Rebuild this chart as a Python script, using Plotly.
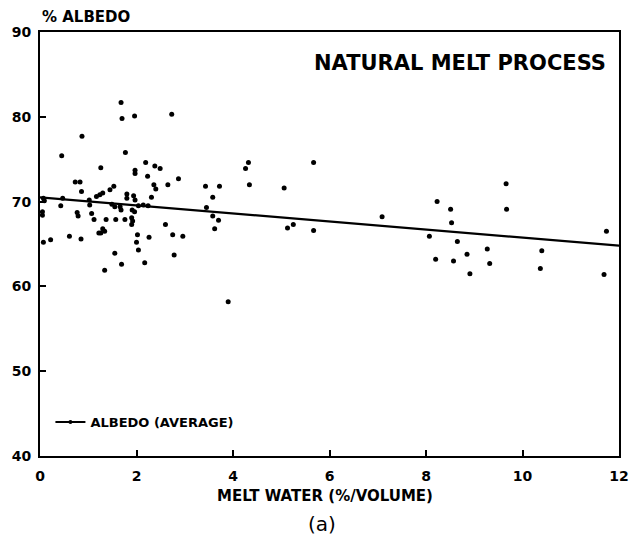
import plotly.graph_objects as go

# Scatter observations: melt water (%/volume) vs albedo (%)
melt_water = [
    1.68, 1.70, 1.96, 2.73, 0.87, 0.45, 1.77, 2.19, 2.38, 2.49, 1.26, 1.97, 1.97,
    2.23, 2.87, 0.73, 0.83, 2.36, 2.40, 2.65, 1.53, 1.45, 0.86, 1.30, 1.24, 1.17,
    1.80, 1.80, 1.94, 1.97, 2.31, 0.07, 0.09, 0.47, 1.02, 1.03, 1.49, 1.55, 1.66,
    1.68, 0.43, 2.04, 2.14, 2.24, 1.91, 1.96, 0.05, 0.05, 0.77, 0.79, 1.07, 1.12,
    1.37, 1.57, 1.76, 1.90, 1.92, 1.90, 2.60, 1.30, 1.34, 1.26, 1.22, 2.75, 2.02,
    2.96, 2.26, 0.61, 0.85, 0.22, 0.07, 2.00, 2.04, 1.55, 2.78, 2.17, 1.69, 1.34,
    4.32, 4.26, 5.67, 3.43, 3.72, 4.34, 5.06, 3.58, 3.45, 3.58, 3.70, 3.62, 5.13,
    5.25, 5.67, 3.90,
    7.09, 8.23, 8.51, 8.53, 9.66, 9.67, 11.74, 8.07, 8.65, 9.27, 10.40, 8.20, 8.57,
    8.85, 9.32, 8.91, 10.37, 11.69,
]
albedo = [
    81.7, 79.8, 80.1, 80.3, 77.7, 75.4, 75.8, 74.6, 74.2, 73.9, 74.0, 73.7, 73.3,
    73.0, 72.7, 72.3, 72.3, 72.0, 71.5, 72.0, 71.8, 71.4, 71.2, 71.0, 70.8, 70.6,
    70.9, 70.4, 70.7, 70.2, 70.5, 70.4, 70.1, 70.4, 70.2, 69.6, 69.7, 69.4, 69.4,
    69.0, 69.5, 69.5, 69.6, 69.5, 69.0, 68.8, 68.8, 68.4, 68.7, 68.3, 68.6, 67.9,
    67.9, 67.9, 67.9, 68.1, 67.7, 67.3, 67.3, 66.8, 66.5, 66.3, 66.3, 66.1, 66.1,
    65.9, 65.8, 65.9, 65.6, 65.5, 65.2, 65.2, 64.3, 63.9, 63.7, 62.8, 62.6, 61.9,
    74.6, 73.9, 74.6, 71.8, 71.8, 72.0, 71.6, 70.5, 69.3, 68.3, 67.8, 66.8, 66.9,
    67.3, 66.6, 58.2,
    68.2, 70.0, 69.1, 67.5, 72.1, 69.1, 66.5, 65.9, 65.3, 64.4, 64.2, 63.2, 63.0,
    63.8, 62.7, 61.5, 62.1, 61.4,
]

# Average albedo trend line
trend_x = [0, 12]
trend_y = [70.5, 64.8]

x_ticks = [0, 2, 4, 6, 8, 10, 12]
y_ticks = [40, 50, 60, 70, 80, 90]

FONT = "DejaVu Sans"

fig = go.Figure()
fig.add_trace(go.Scatter(
    x=melt_water, y=albedo, mode="markers",
    marker=dict(color="black", size=5, symbol="circle"),
    showlegend=False, hoverinfo="skip",
))
fig.add_trace(go.Scatter(
    x=trend_x, y=trend_y, mode="lines",
    line=dict(color="black", width=2.2),
    name="<b>ALBEDO (AVERAGE)</b>", showlegend=False,
))
# legend entry (line with dot)
fig.add_trace(go.Scatter(
    x=[None], y=[None], mode="lines+markers",
    line=dict(color="black", width=2),
    marker=dict(color="black", size=4),
    name="<b>ALBEDO (AVERAGE)</b>",
))

axis_common = dict(
    showgrid=False, zeroline=False, showline=True, linecolor="black",
    linewidth=2, mirror=True, ticks="inside", ticklen=6, tickwidth=1.5,
    tickcolor="black",
    tickfont=dict(family=FONT, size=14, color="black", weight="bold"),
)

fig.update_layout(
    width=638, height=541,
    margin=dict(l=40, r=9, t=32, b=85),
    paper_bgcolor="white", plot_bgcolor="white",
    font=dict(family=FONT, color="black"),
    xaxis=dict(range=[0, 12], tickvals=x_ticks, ticklabelstandoff=6, **axis_common),
    yaxis=dict(range=[40, 90], tickvals=y_ticks, ticklabelstandoff=4, **axis_common),
    legend=dict(
        x=0.018, y=0.08, xanchor="left", yanchor="middle",
        bgcolor="rgba(0,0,0,0)",
        font=dict(family=FONT, size=13, color="black"),
        itemwidth=30,
    ),
    annotations=[
        dict(text="<b>NATURAL MELT PROCESS</b>", xref="paper", yref="paper",
             x=0.981, y=0.926, xanchor="right", yanchor="middle", showarrow=False,
             font=dict(family=FONT, size=21, color="black")),
        dict(text="<b>% ALBEDO</b>", xref="paper", yref="paper",
             x=0.0, y=1.035, xanchor="left", yanchor="middle", showarrow=False,
             font=dict(family=FONT, size=15, color="black")),
        dict(text="<b>MELT WATER (%/VOLUME)</b>", xref="paper", yref="paper",
             x=0.492, y=-0.094, xanchor="center", yanchor="middle", showarrow=False,
             font=dict(family=FONT, size=15, color="black")),
        dict(text="(a)", xref="paper", yref="paper",
             x=0.487, y=-0.16, xanchor="center", yanchor="middle", showarrow=False,
             font=dict(family=FONT, size=20, color="black")),
    ],
)

fig.write_html("out.html")
